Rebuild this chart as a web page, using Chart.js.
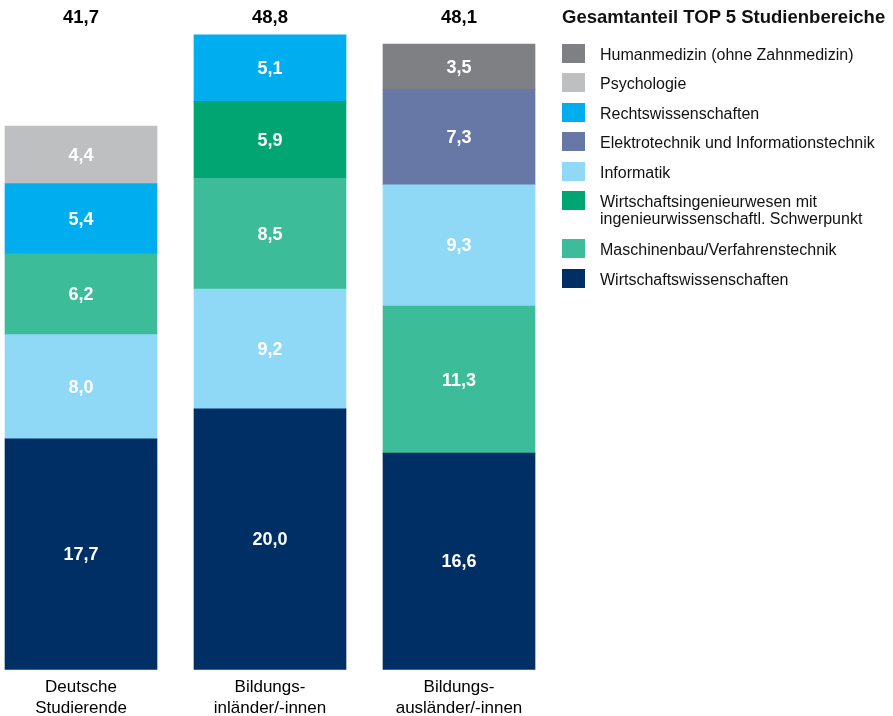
<!DOCTYPE html>
<html>
<head>
<meta charset="utf-8">
<script src="https://cdn.jsdelivr.net/npm/chart.js@4.4.1/dist/chart.umd.min.js"></script>
<style>
  body { margin: 0; background: #fff; font-family: "Liberation Sans", Arial, sans-serif; }
  #wrap { position: relative; width: 893px; height: 716px; overflow: hidden; }
  #legend { position: absolute; left: 562px; top: 6px; color: #111; }
  #legend h3 { margin: 0 0 16px 0; font-size: 18.5px; line-height: 22px; font-weight: bold; white-space: nowrap; }
  .item { display: flex; align-items: flex-start; margin-bottom: 10.4px; }
  .item.two { margin-bottom: 12.5px; }
  .sw { width: 23px; height: 19px; flex: none; }
  .txt { margin-left: 15px; padding-top: 2px; font-size: 16px; line-height: 17px; white-space: pre; }
</style>
</head>
<body>
<div id="wrap">
  <canvas id="chart" width="893" height="726"></canvas>
  <div id="legend"><h3>Gesamtanteil TOP 5 Studienbereiche</h3></div>
</div>
<script>
const groups = [["Deutsche", "Studierende"], ["Bildungs-", "inländer/-innen"], ["Bildungs-", "ausländer/-innen"]];
const totals = [41.7, 48.8, 48.1];

// segments from bottom to top, per bar
const fieldsDeutsche = ["Wirtschaftswissenschaften", "Informatik", "Maschinenbau/Verfahrenstechnik", "Rechtswissenschaften", "Psychologie"];
const valuesDeutsche = [17.7, 8.0, 6.2, 5.4, 4.4];
const fieldsInlaender = ["Wirtschaftswissenschaften", "Informatik", "Maschinenbau/Verfahrenstechnik", "Wirtschaftsingenieurwesen", "Rechtswissenschaften"];
const valuesInlaender = [20.0, 9.2, 8.5, 5.9, 5.1];
const fieldsAuslaender = ["Wirtschaftswissenschaften", "Maschinenbau/Verfahrenstechnik", "Informatik", "Elektrotechnik", "Humanmedizin"];
const valuesAuslaender = [16.6, 11.3, 9.3, 7.3, 3.5];

const legendKeys = ["Humanmedizin", "Psychologie", "Rechtswissenschaften", "Elektrotechnik", "Informatik", "Wirtschaftsingenieurwesen", "Maschinenbau/Verfahrenstechnik", "Wirtschaftswissenschaften"];
const legendLabels = [
    "Humanmedizin (ohne Zahnmedizin)",
    "Psychologie",
    "Rechtswissenschaften",
    "Elektrotechnik und Informationstechnik",
    "Informatik",
    "Wirtschaftsingenieurwesen mit\ningenieurwissenschaftl. Schwerpunkt",
    "Maschinenbau/Verfahrenstechnik",
    "Wirtschaftswissenschaften"
];

const colors = {
    "Humanmedizin": "#7f8084",
    "Psychologie": "#bebfc1",
    "Rechtswissenschaften": "#00aeef",
    "Elektrotechnik": "#6878a6",
    "Informatik": "#8fd9f6",
    "Wirtschaftsingenieurwesen": "#00a572",
    "Maschinenbau/Verfahrenstechnik": "#3dbc99",
    "Wirtschaftswissenschaften": "#002f66"
};

const fields = [fieldsDeutsche, fieldsInlaender, fieldsAuslaender];
const values = [valuesDeutsche, valuesInlaender, valuesAuslaender];

const datasets = [];
for (let r = 0; r < 5; r++) {
    datasets.push({
        data: values.map(v => v[r]),
        backgroundColor: fields.map(f => colors[f[r]]),
        barThickness: 152,
        clip: false
    });
}

const fmt = v => v.toFixed(1).replace(".", ",");

const labelPlugin = {
    id: "labels",
    afterDatasetsDraw(chart) {
        const ctx = chart.ctx;
        ctx.save();
        ctx.textAlign = "center";
        ctx.textBaseline = "middle";
        ctx.font = "bold 18px 'Liberation Sans', Arial, sans-serif";
        ctx.fillStyle = "#fff";
        chart.data.datasets.forEach((ds, i) => {
            chart.getDatasetMeta(i).data.forEach((bar, j) => {
                ctx.fillText(fmt(ds.data[j]), bar.x, (bar.y + bar.base) / 2 + 1);
            });
        });
        ctx.fillStyle = "#000";
        ctx.font = "bold 18.5px 'Liberation Sans', Arial, sans-serif";
        const xs = chart.scales.x;
        totals.forEach((t, j) => ctx.fillText(fmt(t), xs.getPixelForValue(j), 18));
        ctx.restore();
    }
};

new Chart(document.getElementById("chart"), {
    type: "bar",
    data: { labels: groups, datasets: datasets },
    options: {
        responsive: false,
        animation: false,
        layout: { padding: { left: 81, right: 434, top: 18, bottom: 0 } },
        plugins: { legend: { display: false }, tooltip: { enabled: false } },
        scales: {
            x: {
                stacked: true,
                offset: false,
                grid: { display: false, drawTicks: false },
                border: { display: false },
                ticks: { color: "#000", padding: 7, font: { size: 17, lineHeight: 1.25, family: "'Liberation Sans', Arial, sans-serif" } }
            },
            y: {
                stacked: true,
                display: false,
                min: 0,
                max: 50
            }
        }
    },
    plugins: [labelPlugin]
});

const legend = document.getElementById("legend");
legendKeys.forEach((k, i) => {
    const item = document.createElement("div");
    item.className = legendLabels[i].includes("\n") ? "item two" : "item";
    item.innerHTML = '<div class="sw" style="background:' + colors[k] + '"></div><div class="txt"></div>';
    item.querySelector(".txt").textContent = legendLabels[i];
    legend.appendChild(item);
});
</script>
</body>
</html>
